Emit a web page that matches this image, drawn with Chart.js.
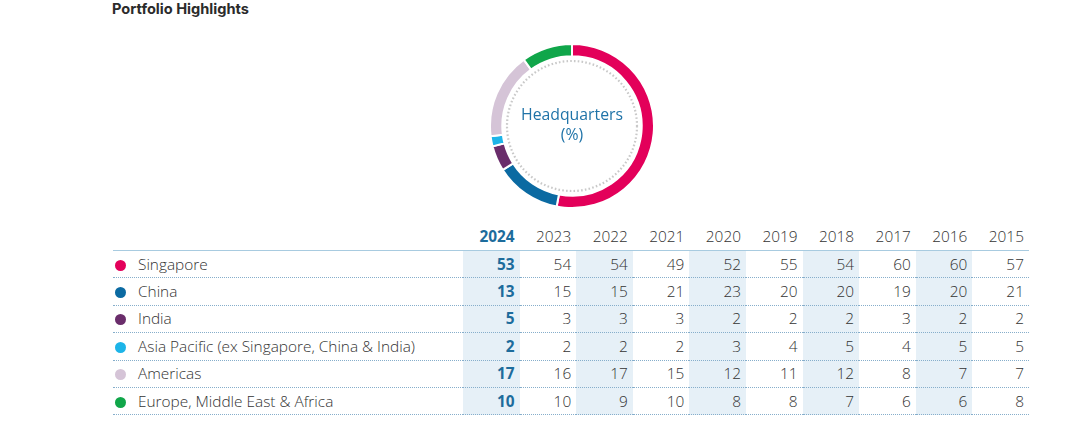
<!DOCTYPE html>
<html>
<head>
<meta charset="utf-8">
<script src="https://cdn.jsdelivr.net/npm/chart.js@4"></script>
<style>
  body { margin: 0; background: #fff; font-family: 'Open Sans', 'Noto Sans', sans-serif; color: #333; }
  .title { position: absolute; left: 112px; top: 0px; font-family: Inter, 'Noto Sans', sans-serif; font-weight: 700; font-size: 14.6px; color: #2b2b2b; }
  #wrap { position: absolute; left: 489px; top: 43px; width: 166px; height: 166px; }
  table { position: absolute; left: 113px; top: 223px; border-collapse: collapse; font-size: 15.4px; font-weight: 300; }
  th, td { padding: 0 5px 0 0; text-align: right; height: 26.4px; width: 51.6px; white-space: nowrap; }
  th { font-weight: 300; border-bottom: 1px solid #a8cbe0; height: 27px; }
  td { border-bottom: 1px dotted #86aecb; }
  td.lab, th.lab { text-align: left; width: 350px; padding: 0; }
  .dot { display: inline-block; width: 11px; height: 11px; border-radius: 50%; margin: 0 12px 0 2px; vertical-align: -1px; }
  .hl { background: #e6f0f7; }
  .cur { font-weight: 700; color: #1d6c9c; }
</style>
</head>
<body>
<div class="title">Portfolio Highlights</div>
<div id="wrap"><canvas id="myChart" width="166" height="166"></canvas></div>
<table id="tbl"></table>
<script>
const regions = ['Singapore', 'China', 'India', 'Asia Pacific (ex Singapore, China & India)', 'Americas', 'Europe, Middle East & Africa'];
const colors = ['#e3005a', '#0b6aa2', '#6a2d6b', '#1db4e8', '#d5c4d7', '#10a64a'];
const years = ['2024', '2023', '2022', '2021', '2020', '2019', '2018', '2017', '2016', '2015'];

const singapore = [53, 54, 54, 49, 52, 55, 54, 60, 60, 57];
const china = [13, 15, 15, 21, 23, 20, 20, 19, 20, 21];
const india = [5, 3, 3, 3, 2, 2, 2, 3, 2, 2];
const asiaPacific = [2, 2, 2, 2, 3, 4, 5, 4, 5, 5];
const americas = [17, 16, 17, 15, 12, 11, 12, 8, 7, 7];
const emea = [10, 10, 9, 10, 8, 8, 7, 6, 6, 8];

const rows = [singapore, china, india, asiaPacific, americas, emea];

// table
let html = '<tr><th class="lab"></th>';
years.forEach((y, i) => {
  html += `<th class="${i === 0 ? 'cur' : ''}">${y}</th>`;
});
html += '</tr>';
rows.forEach((r, k) => {
  html += `<tr><td class="lab"><span class="dot" style="background:${colors[k]}"></span>${regions[k]}</td>`;
  r.forEach((v, i) => {
    let cls = [];
    if (i % 2 === 0) cls.push('hl');
    if (i === 0) cls.push('cur');
    html += `<td class="${cls.join(' ')}">${v}</td>`;
  });
  html += '</tr>';
});
document.getElementById('tbl').innerHTML = html;

const centerText = {
  id: 'centerText',
  afterDraw(chart) {
    const ctx = chart.ctx;
    const meta = chart.getDatasetMeta(0).data[0];
    const x = meta.x, y = meta.y;
    ctx.save();
    ctx.beginPath();
    ctx.setLineDash([1.6, 2.2]);
    ctx.lineWidth = 2.2;
    ctx.strokeStyle = '#c9c9c9';
    ctx.arc(x, y, 65, 0, Math.PI * 2);
    ctx.stroke();
    ctx.setLineDash([]);
    ctx.fillStyle = '#1f73a8';
    ctx.font = "15.8px 'Open Sans', 'Noto Sans', sans-serif";
    ctx.textAlign = 'center';
    ctx.textBaseline = 'middle';
    ctx.fillText('Headquarters', x, y - 11);
    ctx.fillText('(%)', x, y + 9);
    ctx.restore();
  }
};

new Chart(document.getElementById('myChart'), {
  type: 'doughnut',
  data: {
    labels: regions,
    datasets: [{
      data: rows.map(r => r[0]),
      backgroundColor: colors,
      borderColor: '#ffffff',
      borderWidth: 2
    }]
  },
  options: {
    responsive: false,
    animation: false,
    cutout: '85%',
    plugins: { legend: { display: false }, tooltip: { enabled: false } }
  },
  plugins: [centerText]
});
</script>
</body>
</html>
